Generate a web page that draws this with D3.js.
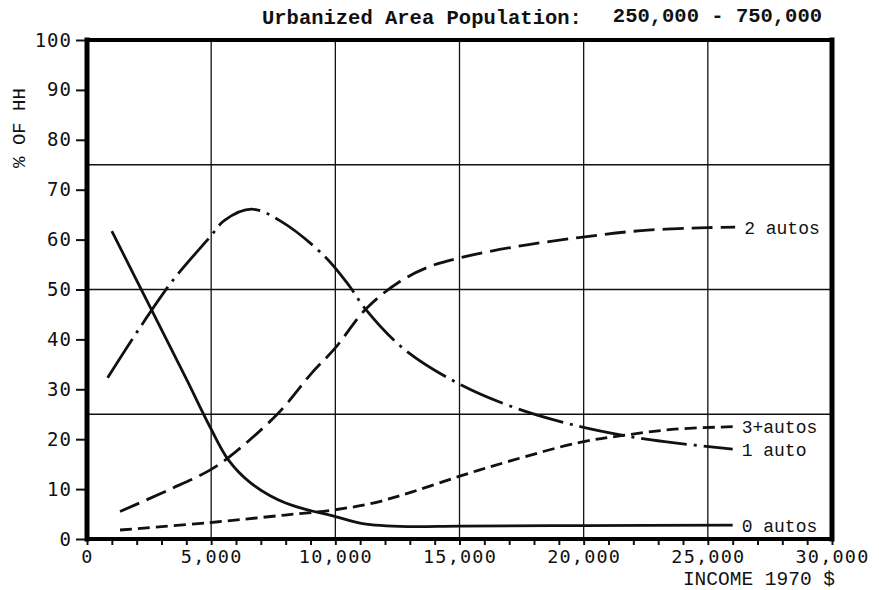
<!DOCTYPE html>
<html>
<head>
<meta charset="utf-8">
<script src="https://cdn.jsdelivr.net/npm/d3@7/dist/d3.min.js"></script>
<style>
  body { margin: 0; background: #fff; }
</style>
</head>
<body>
<script>
var width = 879;
var height = 590;
var margin = { top: 40, bottom: 51, right: 47, left: 87 };

// income (1970 $) , percent of households
var zeroAutos = [[1000, 61.7], [2600, 45.9], [4000, 32.1], [4950, 22.5], [5700, 15.8], [6600, 11.2], [8000, 7.2], [10000, 4.5], [11100, 3.1], [12900, 2.5], [15000, 2.6], [20000, 2.7], [26000, 2.8]];
var oneAuto = [[830, 32.3], [2070, 41.9], [3470, 51.9], [4950, 60.5], [5550, 63.9], [6630, 66.1], [7830, 63.6], [9580, 56.6], [10580, 50.6], [11190, 46.2], [12730, 38.2], [14940, 31.2], [17290, 26.2], [19800, 22.6], [21780, 20.6], [23260, 19.5], [26000, 18.0]];
var twoAutos = [[1330, 5.5], [3270, 9.8], [4950, 13.8], [5820, 16.8], [7700, 25.2], [9040, 33.2], [10000, 38.3], [11250, 46.2], [12600, 51.6], [13800, 54.6], [15140, 56.5], [17290, 58.6], [19800, 60.4], [22320, 61.8], [25000, 62.4], [26100, 62.5]];
var threeAutos = [[1330, 1.8], [4950, 3.3], [7970, 4.8], [9900, 5.8], [11520, 7.2], [13130, 9.5], [15140, 12.8], [17150, 15.8], [19740, 19.25], [21650, 20.8], [23660, 22.0], [26000, 22.5]];

var seriesNames = ["0 autos", "1 auto", "2 autos", "3+autos"];
var xTicks = [0, 5000, 10000, 15000, 20000, 25000, 30000];
var yTicks = [0, 10, 20, 30, 40, 50, 60, 70, 80, 90, 100];
var gridY = [25, 50, 75];

var svg = d3
  .select("body")
  .append("svg")
  .attr("width", width)
  .attr("height", height)
  .style("background", "#fff");

var xScale = d3
  .scaleLinear()
  .domain([0, 30000])
  .range([margin.left, width - margin.right]);

var yScale = d3
  .scaleLinear()
  .domain([0, 100])
  .range([height - margin.bottom, margin.top]);

// グリッド
svg
  .append("g")
  .selectAll("line")
  .data(xTicks.slice(1, -1))
  .join("line")
  .attr("x1", (d) => xScale(d))
  .attr("x2", (d) => xScale(d))
  .attr("y1", yScale(100))
  .attr("y2", yScale(0))
  .attr("stroke", "#111")
  .attr("stroke-width", 1.3);

svg
  .append("g")
  .selectAll("line")
  .data(gridY)
  .join("line")
  .attr("x1", xScale(0))
  .attr("x2", xScale(30000))
  .attr("y1", (d) => yScale(d))
  .attr("y2", (d) => yScale(d))
  .attr("stroke", "#111")
  .attr("stroke-width", 1.3);

// 軸
var axisy = d3.axisLeft(yScale).tickValues(yTicks).tickSize(11).tickPadding(4);
var gy = svg
  .append("g")
  .attr("transform", "translate(" + margin.left + ",0)")
  .call(axisy);
gy.select(".domain").remove();
gy.selectAll("line").attr("stroke", "#111").attr("stroke-width", 2);
gy.selectAll("text")
  .attr("font-family", "DejaVu Sans Mono")
  .attr("font-size", "19px")
  .attr("letter-spacing", "1px")
  .attr("fill", "#111");

var minorTicks = d3.range(0, 30001, 1000);
var axisx = d3
  .axisBottom(xScale)
  .tickValues(minorTicks)
  .tickSize(6)
  .tickPadding(5)
  .tickFormat((d) => (xTicks.includes(d) ? d3.format(",")(d) : ""));
var gx = svg
  .append("g")
  .attr("transform", "translate(0," + (height - margin.bottom) + ")")
  .call(axisx);
gx.select(".domain").remove();
gx.selectAll("line").attr("stroke", "#111").attr("stroke-width", 2);
gx.selectAll("text")
  .attr("font-family", "DejaVu Sans Mono")
  .attr("font-size", "18.5px")
  .attr("letter-spacing", "1.2px")
  .attr("fill", "#111");

// 枠
var frame = svg.append("g").attr("stroke", "#000").attr("stroke-linecap", "square");
frame.append("line")
  .attr("x1", xScale(0)).attr("x2", xScale(0))
  .attr("y1", yScale(100)).attr("y2", yScale(0))
  .attr("stroke-width", 5);
frame.append("line")
  .attr("x1", xScale(30000)).attr("x2", xScale(30000))
  .attr("y1", yScale(100)).attr("y2", yScale(0))
  .attr("stroke-width", 5);
frame.append("line")
  .attr("x1", xScale(0)).attr("x2", xScale(30000))
  .attr("y1", yScale(100)).attr("y2", yScale(100))
  .attr("stroke-width", 4);
frame.append("line")
  .attr("x1", xScale(0)).attr("x2", xScale(30000))
  .attr("y1", yScale(0)).attr("y2", yScale(0))
  .attr("stroke-width", 4);

// ライン
var line = d3
  .line()
  .x((d) => xScale(d[0]))
  .y((d) => yScale(d[1]))
  .curve(d3.curveCatmullRom.alpha(0.5));

var series = [zeroAutos, oneAuto, twoAutos, threeAutos];
var dashes = ["none", "46,7,3,7", "21,8", "12,6"];

svg
  .append("g")
  .selectAll("path")
  .data(series)
  .join("path")
  .attr("fill", "none")
  .attr("stroke", "#111")
  .attr("stroke-width", 2.8)
  .attr("stroke-dasharray", (d, i) => dashes[i])
  .attr("d", line);

// ラベル
svg
  .append("g")
  .selectAll("text")
  .data(series)
  .join("text")
  .attr("x", (d) => xScale(d[d.length - 1][0]) + 9)
  .attr("y", (d) => yScale(d[d.length - 1][1]))
  .attr("dy", "0.36em")
  .attr("font-family", "Liberation Mono")
  .attr("font-size", "18px")
  .attr("fill", "#111")
  .text((d, i) => seriesNames[i]);

// タイトル
svg.append("text")
  .attr("x", 262)
  .attr("y", 24)
  .attr("font-family", "Liberation Mono")
  .attr("font-weight", "bold")
  .attr("font-size", "20.5px")
  .attr("fill", "#111")
  .text("Urbanized Area Population:");
svg.append("text")
  .attr("x", 822)
  .attr("y", 22)
  .attr("text-anchor", "end")
  .attr("font-family", "Liberation Mono")
  .attr("font-weight", "bold")
  .attr("font-size", "20.5px")
  .attr("fill", "#111")
  .text("250,000 - 750,000");

svg.append("text")
  .attr("x", 835)
  .attr("y", 585)
  .attr("text-anchor", "end")
  .attr("font-family", "Liberation Mono")
  .attr("font-size", "19.5px")
  .attr("fill", "#111")
  .text("INCOME 1970 $");

svg.append("text")
  .attr("transform", "translate(25,128) rotate(-90)")
  .attr("text-anchor", "middle")
  .attr("font-family", "Liberation Mono")
  .attr("font-size", "19px")
  .attr("fill", "#111")
  .text("% OF HH");
</script>
</body>
</html>
